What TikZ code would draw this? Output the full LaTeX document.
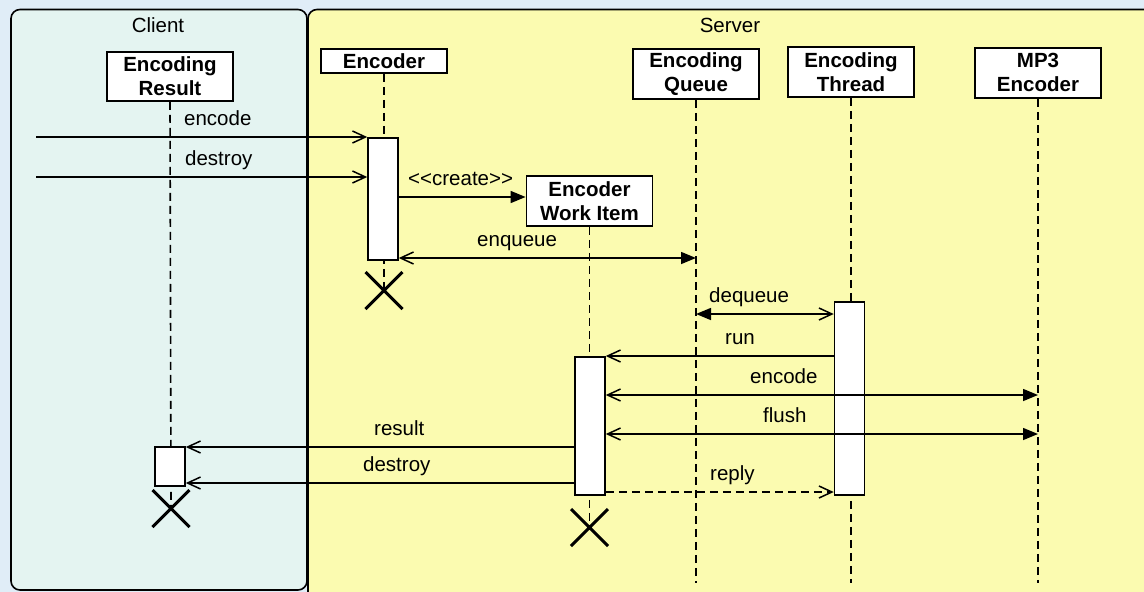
\documentclass[tikz,border=0pt]{standalone}
\usepackage{fontspec}
\setmainfont{Liberation Sans}
\usetikzlibrary{arrows.meta,shapes.misc}
\definecolor{bgblue}{RGB}{224,237,247}
\definecolor{clientfill}{RGB}{228,244,241}
\definecolor{serverfill}{RGB}{251,251,176}
\begin{document}
\begin{tikzpicture}[x=1pt,y=-1pt,
  lane/.style={draw=black, line width=1.6pt, rounded corners=9pt},
  lanelabel/.style={font=\fontsize{20.5}{24}\selectfont, anchor=base, inner sep=0pt},
  head/.style={draw=black, line width=1.8pt, fill=white, minimum width=126pt, minimum height=50pt, inner sep=0pt, align=center, anchor=north, font=\bfseries\fontsize{20.5}{24}\selectfont},
  lifeline/.style={line width=1.6pt, dash pattern=on 8pt off 5pt},
  act/.style={draw=black, line width=1.5pt, fill=white, minimum width=30pt, inner sep=0pt, anchor=north},
  msg/.style={line width=1.5pt},
  call/.style={msg, -{Triangle[length=15pt,width=12pt]}},
  ret/.style={msg, -{Straight Barb[length=13pt,width=12pt]}},
  both/.style={msg, {Straight Barb[length=13pt,width=12pt]}-{Triangle[length=15pt,width=12pt]}},
  lbl/.style={font=\fontsize{20.5}{24}\selectfont, anchor=base west, inner sep=0pt},
  kill/.style={cross out, draw=black, line width=3pt, minimum size=34pt, inner sep=0pt}
]
\useasboundingbox (0,0) rectangle (1144,592);
\clip (0,0) rectangle (1144,592);
\fill[bgblue] (0,0) rectangle (1144,592);

% swimlanes
\draw[lane, fill=clientfill] (11,9.5) rectangle (307,590);
\draw[lane, fill=serverfill] (308,9.5) rectangle (1170,620);
\node[lanelabel] (clientlbl) at (158,32) {Client};
\node[lanelabel] (serverlbl) at (730,32) {Server};

% lifeline heads
\node[head, minimum height=49pt] (res) at (170,51) {Encoding\\Result};
\node[head, minimum height=24pt] (enc) at (384,48) {Encoder};
\node[head] (wi) at (589.5,175) {Encoder\\Work Item};
\node[head] (que) at (696,48) {Encoding\\Queue};
\node[head] (thr) at (851,46) {Encoding\\Thread};
\node[head] (mp3) at (1038,47) {MP3\\Encoder};

% destruction marks and lifeline ends
\node[kill] (resX) at (171,508.5) {};
\node[kill] (encX) at (384,290.5) {};
\node[kill] (wiX) at (589.5,527.5) {};
\coordinate (queEnd) at (696,583);
\coordinate (thrEnd) at (851,583);
\coordinate (mp3End) at (1038,583);

% lifelines
\draw[lifeline] (res.south) -- (resX.center);
\draw[lifeline] (enc.south) -- (encX.center);
\draw[lifeline] (wi.south) -- (wiX.center);
\draw[lifeline] (que.south) -- (queEnd);
\draw[lifeline] (thr.south) -- (thrEnd);
\draw[lifeline] (mp3.south) -- (mp3End);

% activations
\node[act, minimum height=122pt] (encact) at (383,137) {};
\node[act, minimum height=193pt] (thract) at (849.5,301) {};
\node[act, minimum height=138pt] (wiact) at (590,356) {};
\node[act, minimum height=39pt] (resact) at (170,446) {};

% messages
\coordinate (inA) at (36,137);
\coordinate (inB) at (36,177);
\draw[ret] (inA) -- (encact.west |- inA);
\draw[ret] (inB) -- (encact.west |- inB);
\draw[call] (encact.east |- 0,197) -- (wi.west |- 0,197);
\draw[both] (encact.east |- 0,258) -- (que.south |- 0,258);
\draw[both] (thract.west |- 0,314) -- (que.south |- 0,314);
\draw[ret] (thract.west |- 0,356) -- (wiact.north east);
\draw[both] (wiact.east |- 0,395) -- (mp3.south |- 0,395);
\draw[both] (wiact.east |- 0,434) -- (mp3.south |- 0,434);
\draw[ret] (wiact.west |- 0,447) -- (resact.east |- 0,447);
\draw[ret] (wiact.west |- 0,483) -- (resact.east |- 0,483);
\draw[ret, dash pattern=on 8pt off 5pt] (wiact.east |- 0,492) -- (thract.west |- 0,492);

% labels
\node[lbl] (l1) at (184,125.5) {encode};
\node[lbl] (l2) at (185,165.5) {destroy};
\node[lbl] (l3) at (408,185.5) {<\kern0pt<create>\kern0pt>};
\node[lbl] (l4) at (477,246.5) {enqueue};
\node[lbl] (l5) at (709,302.5) {dequeue};
\node[lbl] (l6) at (725,344.5) {run};
\node[lbl] (l7) at (750,383.5) {encode};
\node[lbl] (l8) at (763,422.5) {flush};
\node[lbl] (l9) at (374,435.5) {result};
\node[lbl] (l10) at (363,471.5) {destroy};
\node[lbl] (l11) at (710,480.5) {reply};
\end{tikzpicture}
\end{document}
